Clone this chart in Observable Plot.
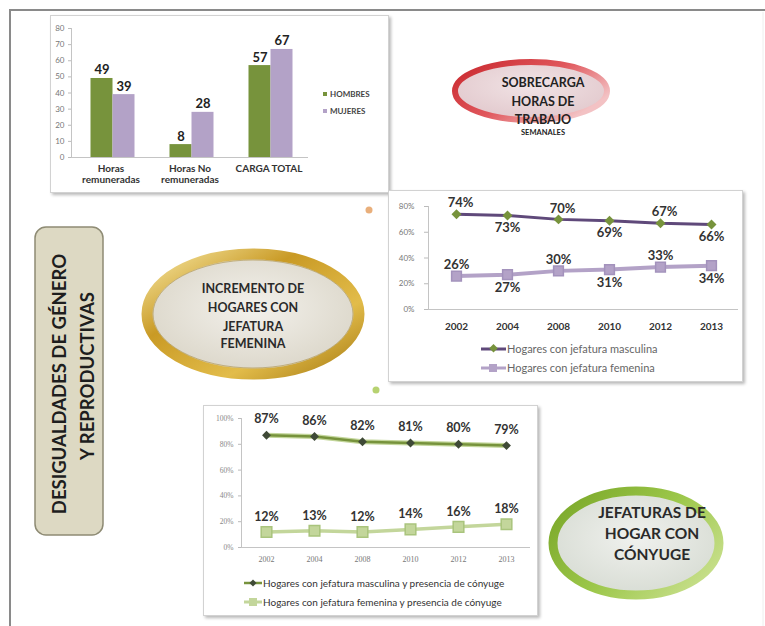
<!DOCTYPE html>
<html><head><meta charset="utf-8">
<script src="https://cdn.jsdelivr.net/npm/d3@7"></script>
<script src="https://cdn.jsdelivr.net/npm/@observablehq/plot@0.6"></script>
<style>
body{margin:0;background:#fff;font-family:Lato,"Open Sans",sans-serif;}
#page{position:relative;width:765px;height:626px;overflow:hidden;background:#fff;}
.panel{position:absolute;background:#fff;border:1px solid #d2d2d2;box-shadow:2px 2px 3px rgba(0,0,0,0.28);}
.abs{position:absolute;}
.leg{position:absolute;white-space:nowrap;display:flex;align-items:center;}
</style></head><body><div id="page"></div>
<script>
// ---------- data ----------
const barCategories = ["Horas remuneradas", "Horas No remuneradas", "CARGA TOTAL"];
const barCategoryLabels = ["Horas\nremuneradas", "Horas No\nremuneradas", "CARGA TOTAL"];
const hombresHoras = [49, 8, 57];
const mujeresHoras = [39, 28, 67];
const barYTicks = [0, 10, 20, 30, 40, 50, 60, 70, 80];
const barSeries = ["HOMBRES", "MUJERES"];

const years = ["2002", "2004", "2008", "2010", "2012", "2013"];
const jefMasculina = [0.74, 0.73, 0.70, 0.69, 0.67, 0.66];
const jefFemenina = [0.26, 0.27, 0.30, 0.31, 0.33, 0.34];
const jefSeries = ["Hogares con jefatura masculina", "Hogares con jefatura femenina"];
const pctTicks2 = [0, 0.2, 0.4, 0.6, 0.8];

const jefMascConyuge = [0.87, 0.86, 0.82, 0.81, 0.80, 0.79];
const jefFemConyuge = [0.12, 0.13, 0.12, 0.14, 0.16, 0.18];
const conySeries = ["Hogares con jefatura masculina y  presencia de cónyuge", "Hogares con jefatura femenina y presencia de cónyuge"];
const pctTicks3 = [0, 0.2, 0.4, 0.6, 0.8, 1];

// ---------- styles ----------
const GREEN = "#77933C", LILAC = "#B3A2C7", DPURPLE = "#5F497A";
const FONT = "Lato, 'Open Sans', sans-serif";
const pct = d3.format(".0%");
const page = document.getElementById("page");

// ---------- decoration layer ----------
const NS = "http://www.w3.org/2000/svg";
const deco = document.createElementNS(NS, "svg");
deco.setAttribute("width", 765); deco.setAttribute("height", 626);
deco.style.position = "absolute"; deco.style.left = "0"; deco.style.top = "0";
deco.innerHTML = `
<defs>
 <linearGradient id="goldRim" x1="0" y1="0" x2="1" y2="1">
  <stop offset="0" stop-color="#F7E7A2"/><stop offset="0.35" stop-color="#C99A25"/>
  <stop offset="0.7" stop-color="#E2BC4A"/><stop offset="1" stop-color="#A87C14"/></linearGradient>
 <radialGradient id="goldFill" cx="0.5" cy="0.45" r="0.6">
  <stop offset="0" stop-color="#F3F1EC"/><stop offset="1" stop-color="#D9D4C6"/></radialGradient>
 <linearGradient id="redRim" x1="0" y1="0" x2="1" y2="0.6">
  <stop offset="0" stop-color="#C8262C"/><stop offset="0.55" stop-color="#E0575C"/>
  <stop offset="1" stop-color="#F3C2C4"/></linearGradient>
 <radialGradient id="redFill" cx="0.5" cy="0.4" r="0.6">
  <stop offset="0" stop-color="#F1E3E5"/><stop offset="1" stop-color="#E2C9CD"/></radialGradient>
 <linearGradient id="greenRim" x1="0" y1="0.2" x2="1" y2="0.8">
  <stop offset="0" stop-color="#7DAA2C"/><stop offset="0.5" stop-color="#9CC74A"/>
  <stop offset="1" stop-color="#C9E08E"/></linearGradient>
 <radialGradient id="greenFill" cx="0.5" cy="0.45" r="0.6">
  <stop offset="0" stop-color="#F0F1EE"/><stop offset="1" stop-color="#D6DBD2"/></radialGradient>
</defs>
<line x1="9" y1="10" x2="765" y2="10" stroke="#8a8a8a" stroke-width="2"/>
<line x1="10" y1="10" x2="10" y2="626" stroke="#8a8a8a" stroke-width="2"/>
<line x1="763" y1="12" x2="763" y2="626" stroke="#eeeeee" stroke-width="1"/>
<rect x="35" y="227" width="68" height="308" rx="11" fill="#DDD9C3" stroke="#8E8B74" stroke-width="1.5"/>
<text transform="translate(66,384) rotate(-90)" text-anchor="middle" font-family="${FONT}" font-weight="bold" font-size="18.5" fill="#1e1e1e">DESIGUALDADES DE GÉNERO</text>
<text transform="translate(94,376) rotate(-90)" text-anchor="middle" font-family="${FONT}" font-weight="bold" font-size="18.5" fill="#1e1e1e">Y REPRODUCTIVAS</text>
<ellipse cx="253" cy="314" rx="106" ry="60" fill="url(#goldFill)" stroke="url(#goldRim)" stroke-width="11"/>
<ellipse cx="253" cy="314" rx="100" ry="54" fill="none" stroke="#9C7A1E" stroke-width="0.8" opacity="0.6"/>
<g font-family="${FONT}" font-weight="bold" font-size="12.5" fill="#2a2a2a" text-anchor="middle">
 <text x="253" y="293">INCREMENTO  DE</text><text x="253" y="312">HOGARES CON</text>
 <text x="253" y="331">JEFATURA</text><text x="253" y="348">FEMENINA</text>
</g>
<ellipse cx="531" cy="91" rx="76" ry="29" fill="url(#redFill)" stroke="url(#redRim)" stroke-width="6"/>
<g font-family="${FONT}" font-weight="bold" font-size="12.5" fill="#222" text-anchor="middle">
 <text x="543" y="87">SOBRECARGA</text><text x="543" y="106">HORAS DE</text><text x="543" y="124">TRABAJO</text>
 <text x="543" y="135" font-size="7.5">SEMANALES</text>
</g>
<ellipse cx="636" cy="543" rx="83" ry="52" fill="url(#greenFill)" stroke="url(#greenRim)" stroke-width="9"/>
<g font-family="${FONT}" font-weight="bold" font-size="15.5" fill="#2a2a2a" text-anchor="middle">
 <text x="652" y="518">JEFATURAS DE</text><text x="652" y="539">HOGAR CON</text><text x="652" y="560">CÓNYUGE</text>
</g>
<circle cx="369" cy="210" r="3.5" fill="#E39B5A" opacity="0.8"/>
<circle cx="376" cy="390" r="3.5" fill="#A5C74E" opacity="0.8"/>
`;
page.appendChild(deco);

function panel(x, y, w, h) {
  const d = document.createElement("div");
  d.className = "panel";
  Object.assign(d.style, {left: x + "px", top: y + "px", width: w + "px", height: h + "px"});
  page.appendChild(d);
  return d;
}

// ---------- chart 1: bars ----------
const bars = barCategories.map((c, i) => ({cat: c, h: hombresHoras[i], m: mujeresHoras[i]}));
const p1 = panel(50, 15, 337, 176);
const bw = 79, half = bw / 2, barW = 22;
const chart1 = Plot.plot({
  width: 337, height: 176,
  marginLeft: 20, marginRight: 80, marginTop: 12, marginBottom: 35,
  style: {fontFamily: FONT, background: "transparent"},
  x: {domain: barCategories, paddingInner: 0, paddingOuter: 0, label: null},
  y: {domain: [0, 80], label: null},
  marks: [
    Plot.axisY({ticks: barYTicks, label: null, tickSize: 3, tickPadding: 4, fontSize: 8, fill: "#777", stroke: "#bbb"}),
    Plot.frame({anchor: "left", stroke: "#c4c4c4"}),
    Plot.axisX({label: null, tickSize: 0, tickPadding: 6, fontSize: 10, fontWeight: "bold", fill: "#333", lineHeight: 1.15,
      tickFormat: d => barCategoryLabels[barCategories.indexOf(d)]}),
    Plot.barY(bars, {x: "cat", y: "h", fill: GREEN, insetLeft: half - barW + 2, insetRight: half - 2}),
    Plot.barY(bars, {x: "cat", y: "m", fill: LILAC, insetLeft: half + 2, insetRight: half - barW - 2}),
    Plot.ruleY([0], {stroke: "#c4c4c4"}),
    Plot.text(bars, {x: "cat", y: "h", text: d => String(d.h), dx: -9, dy: -4, lineAnchor: "bottom", fontSize: 13, fontWeight: "bold", fill: "#222"}),
    Plot.text(bars, {x: "cat", y: "m", text: d => String(d.m), dx: 13, dy: -4, lineAnchor: "bottom", fontSize: 13, fontWeight: "bold", fill: "#222"})
  ]
});
chart1.style.position = "absolute"; chart1.style.left = "0"; chart1.style.top = "0";
p1.appendChild(chart1);
[[GREEN, 0], [LILAC, 1]].forEach(([col, i]) => {
  const l = document.createElement("div");
  l.className = "leg";
  Object.assign(l.style, {left: "272px", top: (73 + i * 17) + "px", fontSize: "8px", fontWeight: "bold", color: "#444"});
  l.innerHTML = `<span style="display:inline-block;width:4px;height:4px;background:${col};margin-right:3px"></span>${barSeries[i]}`;
  p1.appendChild(l);
});

// ---------- chart 2: jefatura ----------
const c2m = years.map((y, i) => ({year: y, v: jefMasculina[i], i}));
const c2f = years.map((y, i) => ({year: y, v: jefFemenina[i], i}));
const p2 = panel(388, 190, 353, 190);
const lab = {fontSize: 13, fontWeight: "bold", fill: "#333"};
const chart2 = Plot.plot({
  width: 353, height: 148,
  marginLeft: 39, marginRight: 4, marginTop: 15, marginBottom: 30,
  style: {fontFamily: FONT, background: "transparent"},
  x: {type: "point", domain: years, padding: 0.5, label: null},
  y: {domain: [0, 0.8], label: null},
  marks: [
    Plot.axisY({ticks: pctTicks2, label: null, tickFormat: pct, tickSize: 4, tickPadding: 10, fontSize: 8, fill: "#777", stroke: "#bbb"}),
    Plot.frame({anchor: "left", stroke: "#c4c4c4"}),
    Plot.ruleY([0], {stroke: "#c4c4c4"}),
    Plot.axisX({label: null, tickSize: 0, tickPadding: 13, fontSize: 10, fontWeight: "bold", fill: "#333"}),
    Plot.line(c2m, {x: "year", y: "v", stroke: DPURPLE, strokeWidth: 3}),
    Plot.dot(c2m, {x: "year", y: "v", symbol: "diamond2", r: 4.5, fill: GREEN}),
    Plot.line(c2f, {x: "year", y: "v", stroke: LILAC, strokeWidth: 4}),
    Plot.dot(c2f, {x: "year", y: "v", symbol: "square", r: 5.5, fill: LILAC, stroke: "#A392BC"}),
    Plot.text(c2m.filter(d => d.i % 2 === 0), {x: "year", y: "v", text: d => pct(d.v), dy: -11, dx: 4, ...lab}),
    Plot.text(c2m.filter(d => d.i % 2 === 1), {x: "year", y: "v", text: d => pct(d.v), dy: 12, ...lab}),
    Plot.text(c2f.filter(d => d.i % 2 === 0), {x: "year", y: "v", text: d => pct(d.v), dy: -11, ...lab}),
    Plot.text(c2f.filter(d => d.i % 2 === 1), {x: "year", y: "v", text: d => pct(d.v), dy: 13, ...lab})
  ]
});
chart2.style.position = "absolute"; chart2.style.left = "0"; chart2.style.top = "0";
p2.appendChild(chart2);
const legSample = (line, marker, w) =>
  `<svg width="${w}" height="10" style="margin-right:1px">${line}${marker}</svg>`;
[
  legSample(`<line x1="0" y1="5" x2="25" y2="5" stroke="${DPURPLE}" stroke-width="3"/>`, `<rect x="9" y="1.5" width="6" height="6" transform="rotate(45 12.5 5)" fill="${GREEN}"/>`, 25),
  legSample(`<line x1="0" y1="5" x2="25" y2="5" stroke="${LILAC}" stroke-width="3"/>`, `<rect x="8" y="1" width="8" height="8" fill="${LILAC}"/>`, 25)
].forEach((s, i) => {
  const l = document.createElement("div");
  l.className = "leg";
  Object.assign(l.style, {left: "92px", top: (151 + i * 19) + "px", fontSize: "11px", color: "#666"});
  l.innerHTML = s + jefSeries[i];
  p2.appendChild(l);
});

// ---------- chart 3: cónyuge ----------
const c3m = years.map((y, i) => ({year: y, v: jefMascConyuge[i], i}));
const c3f = years.map((y, i) => ({year: y, v: jefFemConyuge[i], i}));
const p3 = panel(203, 405, 333, 209);
const lab3 = {fontSize: 12.5, fontWeight: "bold", fill: "#333"};
const chart3 = Plot.plot({
  width: 333, height: 165,
  marginLeft: 37, marginRight: 7, marginTop: 12, marginBottom: 24,
  style: {fontFamily: FONT, background: "transparent"},
  x: {type: "point", domain: years, padding: 0.5, label: null},
  y: {domain: [0, 1], label: null},
  marks: [
    Plot.axisY({ticks: pctTicks3, label: null, tickFormat: pct, tickSize: 3, tickPadding: 5, fontSize: 7.5, fontFamily: "'Liberation Serif', serif", fill: "#888", stroke: "#bbb"}),
    Plot.frame({anchor: "left", stroke: "#c4c4c4"}),
    Plot.ruleY([0], {stroke: "#c4c4c4"}),
    Plot.axisX({label: null, tickSize: 0, tickPadding: 9, fontSize: 8, fontFamily: "'Liberation Serif', serif", fill: "#777"}),
    Plot.line(c3m, {x: "year", y: "v", stroke: "#C3D69B", strokeWidth: 5}),
    Plot.line(c3m, {x: "year", y: "v", stroke: GREEN, strokeWidth: 2.5}),
    Plot.dot(c3m, {x: "year", y: "v", symbol: "diamond2", r: 4, fill: "#3F4A37"}),
    Plot.line(c3f, {x: "year", y: "v", stroke: "#C3D69B", strokeWidth: 3.5}),
    Plot.dot(c3f, {x: "year", y: "v", symbol: "square", r: 6, fill: "#C3D69B", stroke: "#A9C47C"}),
    Plot.text(c3m, {x: "year", y: "v", text: d => pct(d.v), dy: -16, ...lab3}),
    Plot.text(c3f, {x: "year", y: "v", text: d => pct(d.v), dy: -15, ...lab3})
  ]
});
chart3.style.position = "absolute"; chart3.style.left = "0"; chart3.style.top = "0";
p3.appendChild(chart3);
[
  legSample(`<line x1="0" y1="5" x2="18" y2="5" stroke="${GREEN}" stroke-width="2.5"/>`, `<rect x="6.5" y="2.5" width="5" height="5" transform="rotate(45 9 5)" fill="#3F4A37"/>`, 18),
  legSample(`<line x1="0" y1="5" x2="18" y2="5" stroke="#C3D69B" stroke-width="3"/>`, `<rect x="5" y="1" width="8" height="8" fill="#C3D69B"/>`, 18)
].forEach((s, i) => {
  const l = document.createElement("div");
  l.className = "leg";
  Object.assign(l.style, {left: "40px", top: (171 + i * 19) + "px", fontSize: "10px", color: "#333"});
  l.innerHTML = s + conySeries[i];
  p3.appendChild(l);
});
</script></body></html>
